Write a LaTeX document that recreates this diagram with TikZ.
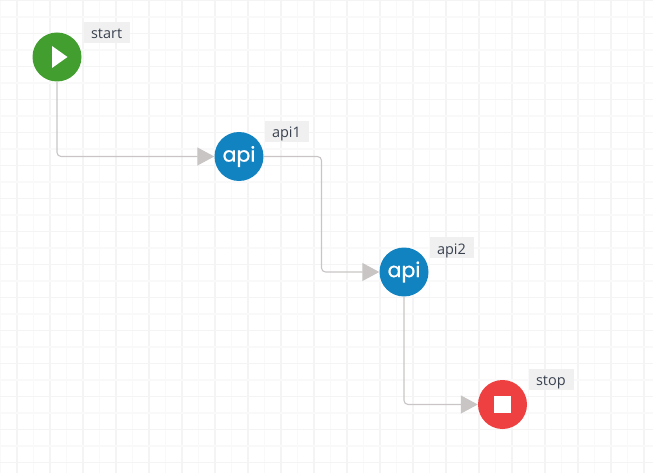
\documentclass[tikz,border=0pt]{standalone}
\usepackage{fontspec}
\setmainfont{Open Sans}
\newfontfamily\apifont[FakeBold=0.7]{Poppins}
\usetikzlibrary{arrows.meta}
\definecolor{gridmajor}{HTML}{F4F4F4}
\definecolor{gridminor}{HTML}{F9F9F9}
\definecolor{flowline}{HTML}{C9C5C5}
\definecolor{startgreen}{HTML}{429F2F}
\definecolor{apiblue}{HTML}{1283C1}
\definecolor{stopred}{HTML}{EE4040}
\definecolor{tagfill}{HTML}{F0F0F0}
\definecolor{tagtext}{HTML}{3A4250}
\tikzset{
	step circle/.style={circle, minimum size=49pt, inner sep=0pt, text=white},
	api circle/.style={step circle, fill=apiblue, font=\apifont\fontsize{20.5}{22}\selectfont},
	tag/.style={fill=tagfill, text=tagtext, minimum height=21pt, inner ysep=0pt, inner xsep=7pt, text height=15pt, text depth=2pt, align=left, font=\fontsize{14.5}{16}\selectfont},
	flow/.style={draw=flowline, line width=1.1pt, rounded corners=4pt, -{Triangle[length=17pt,width=18pt,color=flowline]}}
}
\begin{document}
\begin{tikzpicture}[x=1pt, y=-1pt]
			\useasboundingbox (0, 0) rectangle (653, 473);
			
			% background grid
			\foreach \gx in {0,...,39}{
				\pgfmathsetmacro{\gcol}{int(mod(\gx,2))==1 ? 1 : 0}
				\ifnum\gcol=1 \def\gname{gridmajor}\else\def\gname{gridminor}\fi
				\draw[\gname, line width=1.1pt] (16.5*\gx+0.5, 0) -- (16.5*\gx+0.5, 473);
			}
			\foreach \gy in {0,...,28}{
				\pgfmathsetmacro{\gcol}{int(mod(\gy,2))==0 ? 1 : 0}
				\ifnum\gcol=1 \def\gname{gridmajor}\else\def\gname{gridminor}\fi
				\draw[\gname, line width=1.1pt] (0, 16.5*\gy+0.5) -- (653, 16.5*\gy+0.5);
			}
			
			% steps
			\node[step circle, fill=startgreen] (start) at (57, 57) {};
			\node[api circle] (api1) at (239, 156.5) {api};
			\node[api circle] (api2) at (404, 272) {api};
			\node[step circle, fill=stopred] (stop) at (502.5, 404.5) {};
			
			% icons
			\fill[white] (52, 46) -- (67.5, 57) -- (52, 68) -- cycle;
			\fill[white] (494, 396) rectangle (511, 413);
			
			% tags
			\node[tag, text width=32pt] (starttag) at (107, 32.5) {start};
			\node[tag, text width=30pt] (api1tag) at (287, 131.5) {api1};
			\node[tag, text width=30pt] (api2tag) at (452, 247.5) {api2};
			\node[tag, text width=31pt] (stoptag) at (551.5, 379) {stop};
			
			% connectors
			\coordinate (bend) at (321.5, 156.5);
			\draw[flow] (start) |- (api1);
			\draw[flow] (api1.east) -- (bend) |- (api2);
			\draw[flow] (api2) |- (stop);
		\end{tikzpicture}
\end{document}
